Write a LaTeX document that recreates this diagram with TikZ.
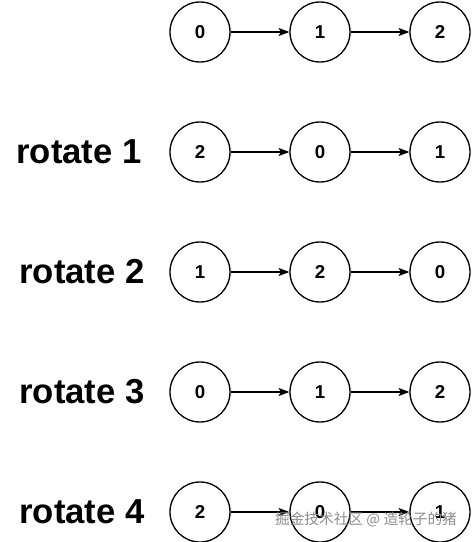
\documentclass[tikz,border=0pt]{standalone}
\usepackage{fontspec}
\setmainfont{Liberation Sans}
\newfontfamily\cjk{Noto Sans CJK SC}
\usepackage{tikz}
\usetikzlibrary{arrows.meta}

\tikzset{
  elem/.style={draw, circle, line width=1pt, minimum size=45pt, inner sep=0pt,
    font=\fontsize{14}{15}\selectfont\bfseries},
  rot/.style={anchor=east, inner sep=0pt, font=\fontsize{26}{28}\selectfont\bfseries},
  link/.style={-{Stealth[length=8pt,width=6pt,inset=1.5pt]}, line width=0.8pt}
}

\begin{document}
\begin{tikzpicture}[x=0.75pt, y=-0.75pt]
    \useasboundingbox (0,0) rectangle (472,542);

    % start
    \node[elem] (a0) at (200,32) {0};
    \node[elem] (a1) at (320,32) {1};
    \node[elem] (a2) at (440,32) {2};
    \draw[link] (a0) -- (a1);
    \draw[link] (a1) -- (a2);

    % rotate 1
    \node[rot] (r1) at (142,152) {rotate 1};
    \node[elem] (b0) at (200,152) {2};
    \node[elem] (b1) at (320,152) {0};
    \node[elem] (b2) at (440,152) {1};
    \draw[link] (b0) -- (b1);
    \draw[link] (b1) -- (b2);

    % rotate 2
    \node[rot] (r2) at (145,272) {rotate 2};
    \node[elem] (c0) at (200,272) {1};
    \node[elem] (c1) at (320,272) {2};
    \node[elem] (c2) at (440,272) {0};
    \draw[link] (c0) -- (c1);
    \draw[link] (c1) -- (c2);

    % rotate 3
    \node[rot] (r3) at (145,392) {rotate 3};
    \node[elem] (d0) at (200,392) {0};
    \node[elem] (d1) at (320,392) {1};
    \node[elem] (d2) at (440,392) {2};
    \draw[link] (d0) -- (d1);
    \draw[link] (d1) -- (d2);

    % rotate 4
    \node[rot] (r4) at (145,512) {rotate 4};
    \node[elem] (e0) at (200,512) {2};
    \node[elem] (e1) at (320,512) {0};
    \node[elem] (e2) at (440,512) {1};
    \draw[link] (e0) -- (e1);
    \draw[link] (e1) -- (e2);

    % watermark
    \node[text=black!45, font=\cjk\fontsize{11}{12}\selectfont] (wm) at (366,520) {掘金技术社区 @ 造轮子的猪};
\end{tikzpicture}
\end{document}
